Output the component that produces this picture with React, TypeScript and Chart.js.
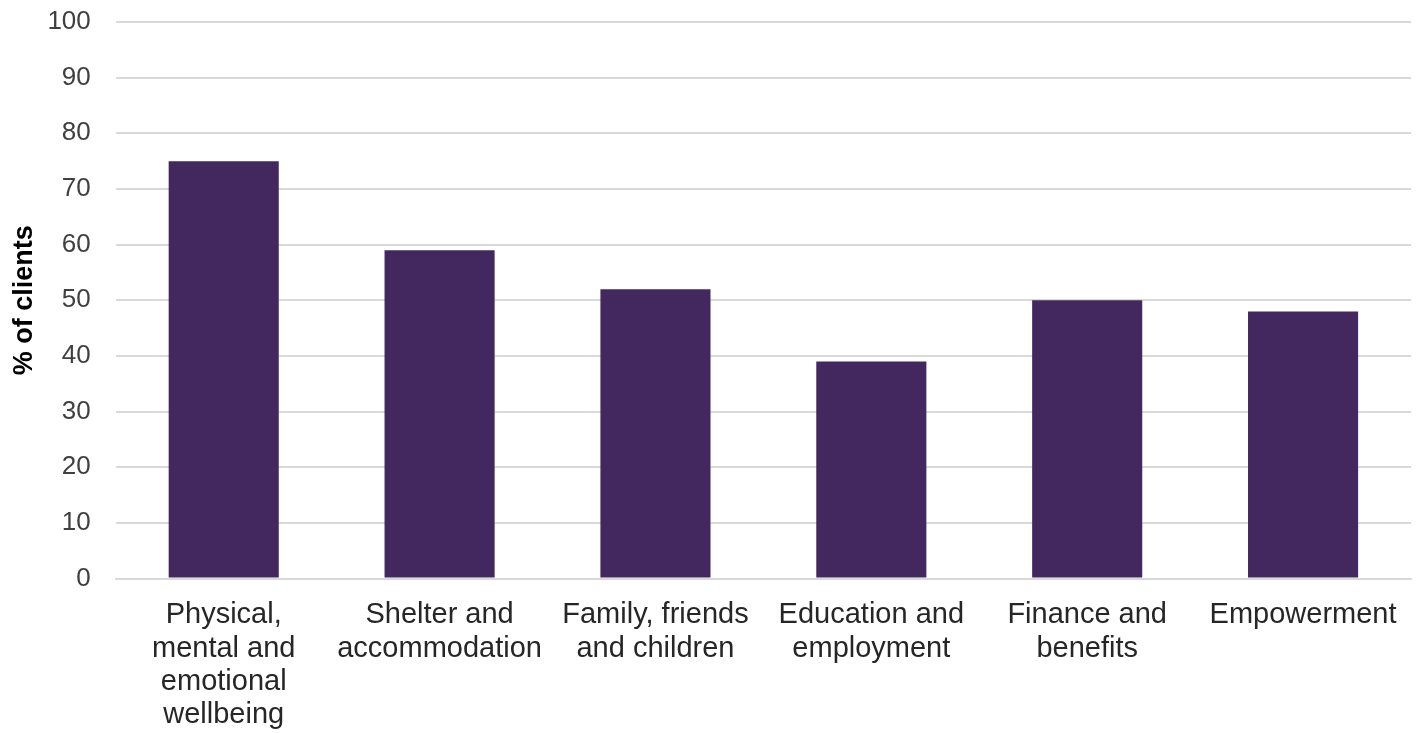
import React, { useEffect, useRef } from "react";
import { Chart, registerables } from "chart.js";

Chart.register(...registerables);

const categories: string[][] = [
  ["Physical,", "mental and", "emotional", "wellbeing"],
  ["Shelter and", "accommodation"],
  ["Family, friends", "and children"],
  ["Education and", "employment"],
  ["Finance and", "benefits"],
  ["Empowerment"],
];
const values: number[] = [75, 59, 52, 39, 50, 48];
const yAxisTitle = "% of clients";

const FONT = "Liberation Sans, Arial, sans-serif";

export default function App() {
  const ref = useRef<HTMLCanvasElement | null>(null);
  useEffect(() => {
    document.body.style.margin = "0";
    const ctx = ref.current;
    if (!ctx) return;
    const chart = new Chart(ctx, {
      type: "bar",
      data: {
        labels: categories,
        datasets: [
          {
            data: values,
            backgroundColor: "#42285f",
            categoryPercentage: 1,
            barPercentage: 0.51,
          },
        ],
      },
      options: {
        animation: false,
        responsive: false,
        maintainAspectRatio: false,
        layout: { padding: { top: 22, right: 12, bottom: -19, left: 8 } },
        plugins: { legend: { display: false }, tooltip: { enabled: false } },
        scales: {
          x: {
            grid: { display: false, drawTicks: false },
            border: { color: "#d9d9d9", width: 2 },
            ticks: {
              color: "#262626",
              font: { family: FONT, size: 29, lineHeight: 1.15 },
              padding: 20,
              maxRotation: 0,
              autoSkip: false,
            },
            afterFit: (s: any) => {
              s.paddingTop = 0;
            },
          },
          y: {
            min: 0,
            max: 100,
            ticks: {
              stepSize: 10,
              color: "#404040",
              font: { family: FONT, size: 26 },
              padding: 25,
            },
            grid: { color: "#d9d9d9", lineWidth: 2, drawTicks: false },
            border: { display: false },
            title: {
              display: true,
              text: yAxisTitle,
              color: "#000000",
              font: { family: FONT, size: 27, weight: "bold" },
              padding: { top: 0, bottom: -18 },
            },
            afterFit: (s: any) => {
              s.paddingTop = 0;
            },
          },
        },
      },
    });
    return () => chart.destroy();
  }, []);
  return (
    <div style={{ width: 1423, height: 733 }}>
      <canvas ref={ref} width={1423} height={733} style={{ display: "block" }} />
    </div>
  );
}
